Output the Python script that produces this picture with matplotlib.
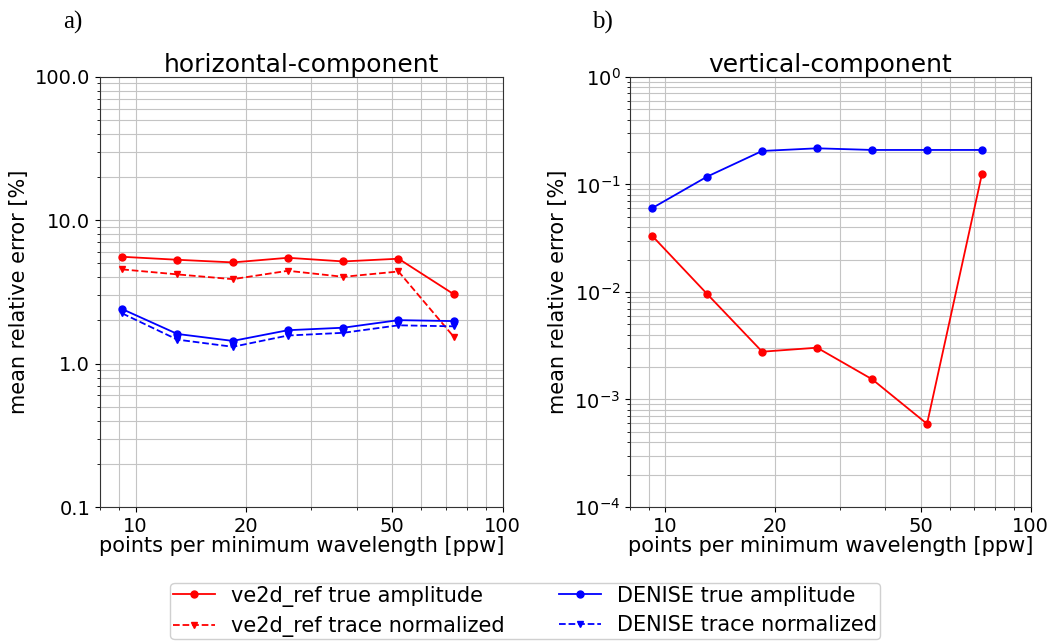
import matplotlib.pyplot as plt
import matplotlib.ticker as mticker
import numpy as np

# points per minimum wavelength
ppw = [9.2, 13.0, 18.4, 26.0, 36.8, 52.0, 73.5]

# horizontal component, mean relative error [%]
h_ve2d_true = [5.56, 5.30, 5.08, 5.47, 5.16, 5.39, 3.05]
h_ve2d_norm = [4.54, 4.19, 3.88, 4.44, 4.03, 4.39, 1.54]
h_denise_true = [2.40, 1.61, 1.44, 1.71, 1.78, 2.01, 1.98]
h_denise_norm = [2.24, 1.47, 1.31, 1.57, 1.64, 1.85, 1.82]

# vertical component, mean relative error [%]
v_ve2d_true = [0.0332, 0.00958, 0.00278, 0.00303, 0.00154, 0.000593, 0.1248]
v_denise_true = [0.0602, 0.118, 0.2046, 0.2165, 0.209, 0.209, 0.209]

plt.rcParams['font.family'] = 'DejaVu Sans'
plt.rcParams['font.size'] = 14

fig = plt.figure(figsize=(10.63, 6.43), dpi=100)
ax1 = fig.add_axes([0.094, 0.2115, 0.379, 0.669])
ax2 = fig.add_axes([0.5927, 0.2115, 0.377, 0.669])

lw = 1.3
ms = 5
ax1.plot(ppw, h_ve2d_true, '-o', color='red', lw=lw, ms=ms, label='ve2d_ref true amplitude')
ax1.plot(ppw, h_ve2d_norm, '--v', color='red', lw=lw, ms=ms, label='ve2d_ref trace normalized')
ax1.plot(ppw, h_denise_true, '-o', color='blue', lw=lw, ms=ms, label='DENISE true amplitude')
ax1.plot(ppw, h_denise_norm, '--v', color='blue', lw=lw, ms=ms, label='DENISE trace normalized')

ax2.plot(ppw, v_ve2d_true, '-o', color='red', lw=lw, ms=ms)
ax2.plot(ppw, v_denise_true, '-o', color='blue', lw=lw, ms=ms)

for ax in (ax1, ax2):
    ax.set_xscale('log')
    ax.set_yscale('log')
    ax.set_xlim(8, 100)
    ax.xaxis.set_major_locator(mticker.FixedLocator([10, 20, 50, 100]))
    ax.xaxis.set_major_formatter(mticker.FixedFormatter(['10', '20', '50', '100']))
    ax.xaxis.set_minor_locator(mticker.FixedLocator([8, 9, 30, 40, 60, 70, 80, 90]))
    ax.xaxis.set_minor_formatter(mticker.NullFormatter())
    ax.yaxis.set_minor_locator(mticker.LogLocator(base=10, subs=np.arange(2, 10), numticks=20))
    ax.yaxis.set_minor_formatter(mticker.NullFormatter())
    ax.grid(True, which='both', color='#c4c4c4', lw=0.8)
    ax.set_xlabel('points per minimum wavelength [ppw]', fontsize=15, labelpad=0)
    ax.set_ylabel('mean relative error [%]', fontsize=15)
    ax.tick_params(labelsize=14)
    for s in ax.spines.values():
        s.set_color('#333333')

ax1.set_ylim(0.1, 100)
ax1.yaxis.set_major_locator(mticker.FixedLocator([0.1, 1, 10, 100]))
ax1.yaxis.set_major_formatter(mticker.FormatStrFormatter('%.1f'))
ax1.set_title('horizontal-component', fontsize=18, pad=2)

ax2.set_ylim(1e-4, 1)
ax2.yaxis.set_major_locator(mticker.LogLocator(base=10, numticks=10))
ax2.set_title('vertical-component', fontsize=18, pad=2)

fig.text(0.059, 0.965, 'a)', family='Liberation Serif', fontsize=18, va='center')
fig.text(0.557, 0.965, 'b)', family='Liberation Serif', fontsize=18, va='center')

fig.legend(loc='upper center', bbox_to_anchor=(0.494, 0.0933), ncol=2, fontsize=15,
           framealpha=1, edgecolor='#d0d0d0', handlelength=2.0, columnspacing=2.6,
           borderaxespad=0.0, labelspacing=0.45, borderpad=0.12)

fig.savefig('out.png', dpi=100)
